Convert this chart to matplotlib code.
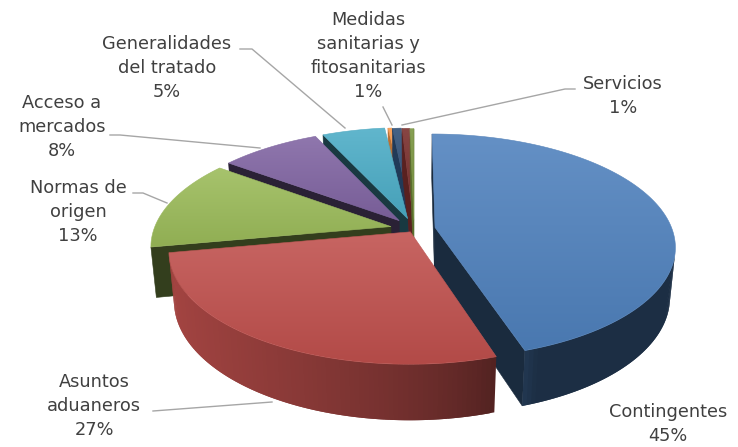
import numpy as np
import matplotlib
matplotlib.use("Agg")
import matplotlib.pyplot as plt
from matplotlib.patches import Polygon
from matplotlib.colors import to_rgb

# datos del grafico
categorias = ["Contingentes", "Asuntos\naduaneros", "Normas de\norigen", "Acceso a\nmercados",
              "Generalidades\ndel tratado", "", "Medidas\nsanitarias y\nfitosanitarias", "Servicios", ""]
valores = [45, 27, 13, 8, 5, 0.3, 0.7, 0.6, 0.3]
colores = ["#4F81BD", "#C0504D", "#9BBB59", "#8064A2", "#4BACC6",
           "#F79646", "#2C4D75", "#772C2A", "#77933C"]
separacion = [0.09, 0.03, 0.10, 0.10, 0.10, 0.095, 0.09, 0.085, 0.08]

# posicion de etiquetas (pixeles) y lineas guia
pos_etiq = [(668, 424), (94, 406), (78, 212), (62, 127), (167, 68), None, (368, 56), (623, 96), None]
guias = [None,
         [(153, 411), (272, 402)],
         [(133, 193), (143, 193), (167, 203)],
         [(110, 135), (120, 135), (260, 148)],
         [(240, 49), (252, 49), (345, 128)],
         None,
         [(383, 107), (392, 125)],
         [(575, 89), (565, 89), (402, 125)],
         None]

W, Hpx = 738, 447
fig = plt.figure(figsize=(W / 100, Hpx / 100), dpi=100)
ax = fig.add_axes([0, 0, 1, 1])
ax.axis("off")

# camara / proyeccion
CX, CY = 414, 229
elev = np.radians(27.5)
ce, se = np.cos(elev), np.sin(elev)
D = 5.35
F = 237 * D
H = 0.24
cam = np.array([0, D * se, -D * ce])


def proyecta(X, Y, Z):
    X, Y, Z = np.asarray(X, float), np.asarray(Y, float), np.asarray(Z, float)
    yc = Y * ce + Z * se
    zc = -Y * se + Z * ce
    s = F / (D + zc)
    return CX + s * X, CY - s * yc


def visible(n, p):
    return np.dot(n, cam - np.asarray(p)) > 0


def f_pared(t):
    u = np.clip((-np.sin(t) + 0.35) / 1.35, 0, 1)
    return 0.36 + 0.5 * u ** 0.6


zo = [10]


def poligono(xs, ys, color, lw=0.4):
    zo[0] += 1
    ax.add_patch(Polygon(np.c_[xs, ys], closed=True, facecolor=color,
                         edgecolor=color, lw=lw, zorder=zo[0]))


def degradado(xs, ys, c1, c2):
    zo[0] += 1
    p = Polygon(np.c_[xs, ys], closed=True, facecolor="none", edgecolor="none")
    ax.add_patch(p)
    t = np.linspace(0, 1, 80)[:, None]
    img = ((1 - t) * c1 + t * c2)[:, None, :]
    im = ax.imshow(img, extent=(min(xs), max(xs), max(ys), min(ys)), aspect="auto",
                   interpolation="bilinear", zorder=zo[0])
    im.set_clip_path(p)
    ax.add_patch(Polygon(np.c_[xs, ys], closed=True, facecolor="none",
                         edgecolor=tuple((c1 + c2) / 2), lw=0.4, zorder=zo[0]))


total = sum(valores)
ang = np.cumsum([0] + valores) / total * 2 * np.pi

rebanadas = []
for i in range(len(valores)):
    t1, t2 = ang[i], ang[i + 1]
    tm = (t1 + t2) / 2
    ox, oz = separacion[i] * np.sin(tm), separacion[i] * np.cos(tm)
    c = np.array([ox + 0.5 * np.sin(tm), -H / 2, oz + 0.5 * np.cos(tm)])
    rebanadas.append((np.linalg.norm(cam - c), i, t1, t2, ox, oz))

rebanadas.sort(reverse=True)

for _, i, t1, t2, ox, oz in rebanadas:
    base = np.array(to_rgb(colores[i]))
    n = max(int(np.degrees(t2 - t1)), 2)
    tt = np.linspace(t1, t2, n + 1)
    Xa = ox + np.sin(tt)
    Za = oz + np.cos(tt)
    fr = 0.33 if valores[i] > 2 else 0.75

    # caras radiales
    for tr, nr, k in [(t1, np.array([-np.cos(t1), 0, np.sin(t1)]), 0),
                      (t2, np.array([np.cos(t2), 0, -np.sin(t2)]), -1)]:
        pm = np.array([ox + 0.5 * np.sin(tr), -H / 2, oz + 0.5 * np.cos(tr)])
        if visible(nr, pm):
            X = [ox, Xa[k], Xa[k], ox]
            Y = [0, 0, -H, -H]
            Z = [oz, Za[k], Za[k], oz]
            xs, ys = proyecta(X, Y, Z)
            poligono(xs, ys, base * fr)

    # pared exterior: tiras solapadas para evitar juntas
    tiras = []
    for j in range(n):
        tmj = (tt[j] + tt[j + 1]) / 2
        nrm = np.array([np.sin(tmj), 0, np.cos(tmj)])
        pm = np.array([ox + np.sin(tmj), -H / 2, oz + np.cos(tmj)])
        if visible(nrm, pm):
            tiras.append(j)
    for j in tiras:
        tmj = (tt[j] + tt[j + 1]) / 2
        j2 = min(j + 2, n) if (j + 1) in tiras else j + 1
        X = [Xa[j], Xa[j2], Xa[j2], Xa[j]]
        Y = [0, 0, -H, -H]
        Z = [Za[j], Za[j2], Za[j2], Za[j]]
        xs, ys = proyecta(X, Y, Z)
        zo[0] += 1
        col = np.clip(base * f_pared(tmj), 0, 1)
        ax.add_patch(Polygon(np.c_[xs, ys], closed=True, facecolor=col,
                             edgecolor="none", lw=0, zorder=zo[0]))

    # cara superior
    xs, ys = proyecta(np.r_[ox, Xa], np.zeros(n + 2), np.r_[oz, Za])
    degradado(xs, ys, base + (1 - base) * 0.12, base * 0.93)

# etiquetas
for i, nombre in enumerate(categorias):
    if pos_etiq[i] is None:
        continue
    pct = round(valores[i] / total * 100)
    ax.text(pos_etiq[i][0], pos_etiq[i][1], f"{nombre}\n{pct}%", ha="center", va="center",
            fontsize=12.8, color="#404040", family=["DejaVu Sans"],
            linespacing=1.42, zorder=100)
    if guias[i]:
        gx, gy = zip(*guias[i])
        ax.plot(gx, gy, color="#A6A6A6", lw=1, zorder=90)

ax.set_xlim(0, W)
ax.set_ylim(Hpx, 0)
fig.savefig("out.png", dpi=100, facecolor="white")
